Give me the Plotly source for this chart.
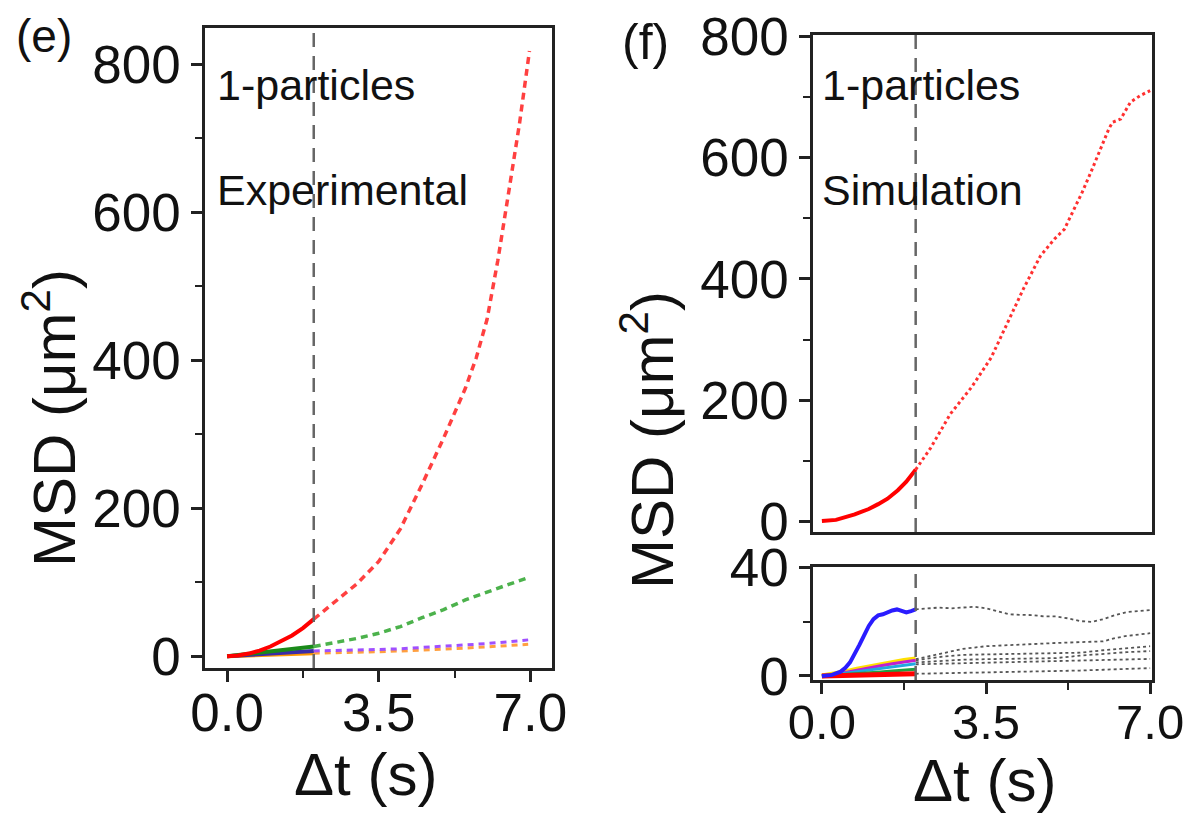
import plotly.graph_objects as go

# ---------------- data ----------------
split_t = 2.0

# (e) Experimental - solid part (0..2 s)
exp_t_solid = [0, 0.25, 0.5, 0.75, 1.0, 1.25, 1.5, 1.75, 2.0]
exp_red_solid = [0, 1, 3.5, 7.5, 13, 20, 28, 38, 50]
exp_green_solid = [0, 1.5, 3, 4.5, 6, 7.5, 9, 11, 13]
exp_purple_solid = [0, 0.8, 1.7, 2.6, 3.5, 4.4, 5.3, 6.2, 7]
exp_orange_solid = [0, 0.4, 0.8, 1.3, 1.8, 2.3, 2.8, 3.4, 4]

# (e) Experimental - dashed part (2..7 s)
exp_red_t = [2.0, 2.5, 3.0, 3.5, 4.0, 4.5, 5.0, 5.5, 5.75, 6.0, 6.25, 6.5, 6.75, 6.98]
exp_red_dash = [50, 74, 98, 128, 172, 232, 295, 362, 403, 455, 535, 627, 720, 818]
exp_t_dash = [2.0, 2.5, 3.0, 3.5, 4.0, 4.5, 5.0, 5.5, 6.0, 6.5, 6.95]
exp_green_dash = [13, 18, 24, 31, 40, 52, 63, 76, 87, 97, 106]
exp_purple_dash = [7, 7.4, 8, 9, 10, 11.5, 13, 15, 17, 19.5, 22]
exp_orange_dash = [4, 4.4, 5, 6, 7, 8, 9.5, 11, 12.5, 14.5, 16]

# (f) Simulation top panel
sim_t_solid = [0, 0.3, 0.7, 1.0, 1.2, 1.4, 1.62, 1.8, 2.0]
sim_red_solid = [0, 2, 11, 20, 28, 37, 51, 65, 85]
sim_t_dot = [2.0, 2.32, 2.74, 3.19, 3.61, 4.03, 4.3, 4.66, 4.96, 5.17, 5.38, 5.55,
             5.74, 5.95, 6.12, 6.2, 6.37, 6.58, 6.79, 7.0]
sim_red_dot = [85, 121, 177, 221, 270, 338, 384, 438, 466, 482, 516, 543,
               577, 615, 648, 659, 664, 692, 703, 711]

# (f) Simulation bottom panel - solid coloured (0..2 s)
low_t_blue = [0, 0.2, 0.4, 0.5, 0.6, 0.7, 0.8, 0.9, 1.0, 1.1, 1.2, 1.3, 1.4, 1.5,
              1.6, 1.7, 1.8, 1.9, 2.0]
low_blue = [0, 0.3, 1.6, 3, 5, 8, 11.5, 15, 18.5, 21, 22.4, 22.8, 23.6, 24.2,
            24.6, 24, 23.5, 24, 24.6]
low_t_solid = [0, 0.25, 0.5, 0.75, 1.0, 1.25, 1.5, 1.75, 2.0]
low_yellow = [0, 0.6, 1.5, 2.5, 3.4, 4.2, 5.0, 5.7, 6.3]
low_magenta = [0, 0.5, 1.3, 2.2, 3.0, 3.8, 4.5, 5.2, 5.8]
low_cyan = [0, 0.4, 1.0, 1.6, 2.2, 2.8, 3.4, 4.0, 4.5]
low_green = [0, 0.25, 0.55, 0.85, 1.2, 1.5, 1.85, 2.2, 2.5]
low_red = [0, 0.1, 0.2, 0.3, 0.4, 0.5, 0.6, 0.7, 0.8]

# (f) Simulation bottom panel - grey dotted (2..7 s)
grey_t_a = [2.0, 2.25, 2.5, 2.75, 3.0, 3.25, 3.5, 3.75, 4.0, 4.25, 4.5, 4.75, 5.0,
            5.25, 5.5, 5.75, 6.0, 6.25, 6.5, 6.75, 7.0]
grey_a = [24.6, 25, 25.3, 25, 25.4, 25.6, 25, 24, 22.8, 22.6, 22.5, 22, 22,
          21.3, 20.3, 20, 21, 22.5, 23.6, 24, 24.4]
grey_t = [2.0, 2.5, 3.0, 3.5, 4.0, 4.5, 5.0, 5.5, 6.0, 6.25, 6.5, 7.0]
grey_b = [6.2, 8, 10, 11, 11.5, 11.8, 12.2, 12.4, 12.8, 14, 14.8, 15.8]
grey_c = [5.8, 7, 7.8, 8, 8.2, 8.3, 8.4, 8.6, 9.5, 9.9, 10.2, 11]
grey_d = [5, 5.6, 6, 6.2, 6.4, 6.5, 6.6, 7.5, 8.2, 8.5, 8.8, 9.2]
grey_e = [4.3, 4.5, 4.8, 4.9, 5, 5.2, 5.4, 5.6, 5.9, 6.0, 6.1, 6.3]
grey_f = [0.8, 0.95, 1.1, 1.25, 1.4, 1.6, 1.8, 2.0, 2.3, 2.45, 2.6, 2.9]

x_ticks = [0.0, 3.5, 7.0]
x_tick_text = ["0.0", "3.5", "7.0"]

# ---------------- figure ----------------
fig = go.Figure()

def add(x, y, color, width, dash="solid", xa="x", ya="y"):
    fig.add_trace(go.Scatter(x=x, y=y, mode="lines", xaxis=xa, yaxis=ya,
                             line=dict(color=color, width=width, dash=dash),
                             showlegend=False, hoverinfo="skip"))

# panel (e)
add(exp_t_dash, exp_orange_dash, "#ffa040", 3, "6px,5px")
add(exp_t_dash, exp_purple_dash, "#a050ff", 3, "6px,5px")
add(exp_t_dash, exp_green_dash, "#4cb24c", 3.5, "7px,5px")
add(exp_red_t, exp_red_dash, "#ff4040", 3.5, "7px,5px")
add(exp_t_solid, exp_orange_solid, "#ff9900", 4)
add(exp_t_solid, exp_purple_solid, "#3b2ca8", 4)
add(exp_t_solid, exp_green_solid, "#1a8a1a", 4)
add(exp_t_solid, exp_red_solid, "#ff0000", 4)

# panel (f) top
add(sim_t_dot, sim_red_dot, "#ff3030", 3, "dot", "x2", "y2")
add(sim_t_solid, sim_red_solid, "#ff0000", 4, "solid", "x2", "y2")

# panel (f) bottom
for g in [grey_b, grey_c, grey_d, grey_e, grey_f]:
    add(grey_t, g, "#555555", 1.8, "dot", "x3", "y3")
add(grey_t_a, grey_a, "#555555", 1.8, "dot", "x3", "y3")
add(low_t_solid, low_yellow, "#ffe000", 5, "solid", "x3", "y3")
add(low_t_solid, low_magenta, "#c020d0", 3, "solid", "x3", "y3")
add(low_t_solid, low_cyan, "#20a8e0", 3, "solid", "x3", "y3")
add(low_t_solid, low_green, "#20a040", 3, "solid", "x3", "y3")
add(low_t_solid, low_red, "#ff0000", 5, "solid", "x3", "y3")
add(low_t_blue, low_blue, "#2a1cff", 4, "solid", "x3", "y3")

FONT = "Liberation Sans, Arial, sans-serif"
TICKF = dict(family=FONT, size=53, color="#111111")

def xax(domain, rng, anchor, labels=True, standoff=0, fsize=53):
    return dict(domain=domain, range=rng, anchor=anchor, showgrid=False, zeroline=False,
                automargin=False, ticklabeloverflow="allow",
                showline=True, linecolor="#222222", linewidth=2.5, mirror=True,
                tickmode="array", tickvals=x_ticks, ticktext=x_tick_text,
                ticks="outside" if labels else "", ticklen=11, tickwidth=2.5,
                tickcolor="#222222", showticklabels=labels,
                tickfont=dict(family=FONT, size=fsize, color="#111111"),
                ticklabelstandoff=standoff,
                minor=dict(dtick=1.75, tick0=0, ticks="outside" if labels else "",
                           ticklen=7, tickwidth=2, tickcolor="#222222"))

def yax(domain, rng, anchor, dtick, minor):
    return dict(domain=domain, range=rng, anchor=anchor, showgrid=False, zeroline=False,
                automargin=False, ticklabeloverflow="allow",
                showline=True, linecolor="#222222", linewidth=2.5, mirror=True,
                tick0=0, dtick=dtick, ticks="outside", ticklen=11, tickwidth=2.5,
                tickcolor="#222222", tickfont=TICKF,
                minor=dict(dtick=minor, tick0=0, ticks="outside", ticklen=7, tickwidth=2,
                           tickcolor="#222222"))

# page body has an 8px margin: figure is sized so the page fills the window
PAD = 8
W, H = 1192 - 2 * PAD, 825 - 2 * PAD
def fx(px): return (px - PAD) / W
def fy(py): return 1 - (py - PAD) / H

fig.update_layout(
    width=W, height=H, margin=dict(l=0, r=0, t=0, b=0, autoexpand=False),
    paper_bgcolor="white", plot_bgcolor="white",
    xaxis=xax([fx(205), fx(552)], [-0.51, 7.5], "y", standoff=-14),
    yaxis=yax([fy(668), fy(28)], [-16, 849], "x", 200, 100),
    xaxis2=xax([fx(813), fx(1152)], [-0.19, 7.04], "y2", labels=False),
    yaxis2=yax([fy(532), fy(35)], [-18, 803], "x2", 200, 100),
    xaxis3=xax([fx(813), fx(1152)], [-0.19, 7.04], "y3", standoff=-14, fsize=49),
    yaxis3=yax([fy(680), fy(567)], [-1.5, 40.3], "x3", 40, 20),
)

# dashed split lines
for xa, ya in [("x", "y"), ("x2", "y2"), ("x3", "y3")]:
    fig.add_shape(type="line", xref=xa, yref=ya + " domain", x0=split_t, x1=split_t,
                  y0=0, y1=1, line=dict(color="#666666", width=2.5, dash="14px,9px"))

def note(text, x, y, xanchor="left", size=43, angle=0):
    fig.add_annotation(text=text, x=fx(x), y=fy(y), xref="paper", yref="paper",
                       xanchor=xanchor, yanchor="middle", showarrow=False,
                       textangle=angle, font=dict(family=FONT, size=size, color="#111111"))

note("1-particles", 215, 85)
note("Experimental", 215, 190)
note("1-particles", 820, 85)
note("Simulation", 820, 190)
note("(e)", 44, 36, "center", 46)
note("(f)", 645, 42, "center", 50)
note("MSD (μm<sup>2</sup>)", 50, 418, "center", 60, -90)
note("MSD (μm<sup>2</sup>)", 648, 440, "center", 60, -90)
note("Δt (s)", 365, 774, "center", 60)
note("Δt (s)", 985, 780, "center", 60)

fig.write_html("out.html")
